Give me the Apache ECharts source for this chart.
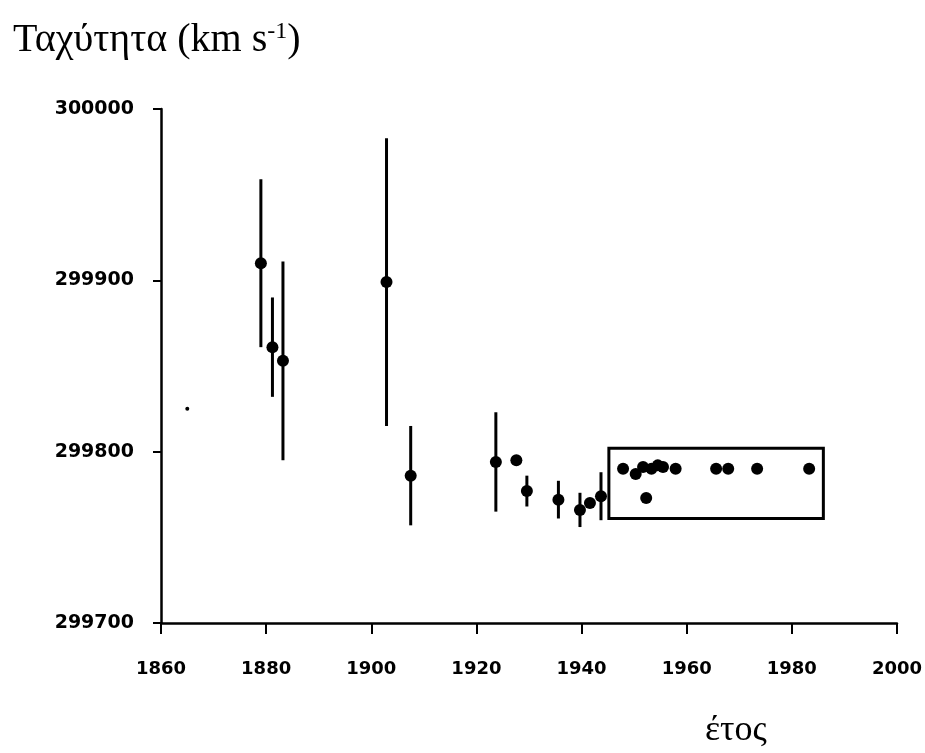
<!DOCTYPE html>
<html>
<head>
<meta charset="utf-8">
<script src="https://cdn.jsdelivr.net/npm/echarts@6/dist/echarts.min.js"></script>
<style>
  html, body { margin: 0; padding: 0; background: #fff; }
  #main { width: 925px; height: 753px; }
</style>
</head>
<body>
<div id="main"></div>
<script>
// measurements of the speed of light (year, km/s, +/- uncertainty)
const years = [1879, 1881.2, 1883.2, 1902.9, 1907.5, 1923.7, 1927.6, 1929.6, 1935.6, 1939.7, 1941.6, 1943.7,
  1947.9, 1950.3, 1951.7, 1952.3, 1953.3, 1954.5, 1955.5, 1957.9, 1965.6, 1967.9, 1973.4, 1983.3];
const speeds = [299910, 299861, 299853, 299899, 299786, 299794, 299795, 299777, 299772, 299766, 299770, 299774,
  299790, 299787, 299791, 299773, 299790, 299792, 299791, 299790, 299790, 299790, 299790, 299790];
const errors = [49, 29, 58, 84, 29, 29, 0, 9, 11, 10, 0, 14,
  0, 0, 0, 0, 0, 0, 0, 0, 0, 0, 0, 0];

// stray small mark near 1865
const strayYears = [1865];
const straySpeeds = [299825];

// framed group of modern values
const boxYears = [1945.2, 1986];
const boxSpeeds = [299761, 299802];

const xTicks = [1860, 2000, 20];
const yTicks = [299700, 300000, 100];

const points = years.map((y, i) => [y, speeds[i]]);
const bars = years.map((y, i) => [y, speeds[i], errors[i]]).filter((d) => d[2] > 0);

const chart = echarts.init(document.getElementById('main'));

const labelStyle = {
  fontFamily: 'DejaVu Sans',
  fontWeight: 'bold',
  color: '#000',
};

const option = {
  backgroundColor: '#fff',
  animation: false,
  title: [
    {
      text: 'Ταχύτητα (km s{sup|-1})',
      left: 8,
      top: 15,
      textStyle: {
        fontFamily: 'Liberation Serif',
        fontWeight: 'normal',
        fontSize: 40,
        color: '#000',
        rich: {
          sup: {
            fontFamily: 'Liberation Serif',
            fontSize: 24,
            color: '#000',
            verticalAlign: 'top',
            padding: [0, 0, 14, 0],
          },
        },
      },
    },
    {
      text: 'έτος',
      left: 700,
      top: 708,
      textStyle: {
        fontFamily: 'Liberation Serif',
        fontWeight: 'normal',
        fontSize: 36,
        color: '#000',
      },
    },
  ],
  grid: {
    left: 161,
    right: 27,
    top: 109,
    bottom: 130,
  },
  xAxis: {
    type: 'value',
    min: xTicks[0],
    max: xTicks[1],
    interval: xTicks[2],
    splitLine: { show: false },
    axisLine: { show: true, lineStyle: { color: '#000', width: 2.5 } },
    axisTick: { show: true, length: 11, lineStyle: { color: '#000', width: 2 } },
    axisLabel: {
      ...labelStyle,
      fontSize: 18,
      margin: 37,
      formatter: (v) => String(v),
    },
  },
  yAxis: {
    type: 'value',
    min: yTicks[0],
    max: yTicks[1],
    interval: yTicks[2],
    splitLine: { show: false },
    axisLine: { show: true, lineStyle: { color: '#000', width: 2.5 } },
    axisTick: { show: true, length: 8, lineStyle: { color: '#000', width: 2 } },
    axisLabel: {
      ...labelStyle,
      fontSize: 19,
      margin: 27,
      formatter: (v) => String(v),
    },
  },
  series: [
    {
      name: 'errors',
      type: 'custom',
      data: bars,
      renderItem: (params, api) => {
        const x = api.value(0);
        const y = api.value(1);
        const e = api.value(2);
        const top = api.coord([x, y + e]);
        const bot = api.coord([x, y - e]);
        return {
          type: 'line',
          shape: { x1: top[0], y1: top[1], x2: bot[0], y2: bot[1] },
          style: { stroke: '#000', lineWidth: 3 },
        };
      },
      z: 2,
    },
    {
      name: 'values',
      type: 'scatter',
      data: points,
      symbol: 'circle',
      symbolSize: 12,
      itemStyle: { color: '#000', opacity: 1 },
      z: 3,
      markArea: {
        silent: true,
        itemStyle: {
          color: 'rgba(0,0,0,0)',
          borderColor: '#000',
          borderWidth: 3,
        },
        data: [[
          { coord: [boxYears[0], boxSpeeds[1]] },
          { coord: [boxYears[1], boxSpeeds[0]] },
        ]],
      },
    },
    {
      name: 'stray',
      type: 'scatter',
      data: strayYears.map((y, i) => [y, straySpeeds[i]]),
      symbolSize: 4,
      itemStyle: { color: '#000', opacity: 1 },
    },
  ],
};

chart.setOption(option);
window.addEventListener('resize', () => chart.resize());
</script>
</body>
</html>
